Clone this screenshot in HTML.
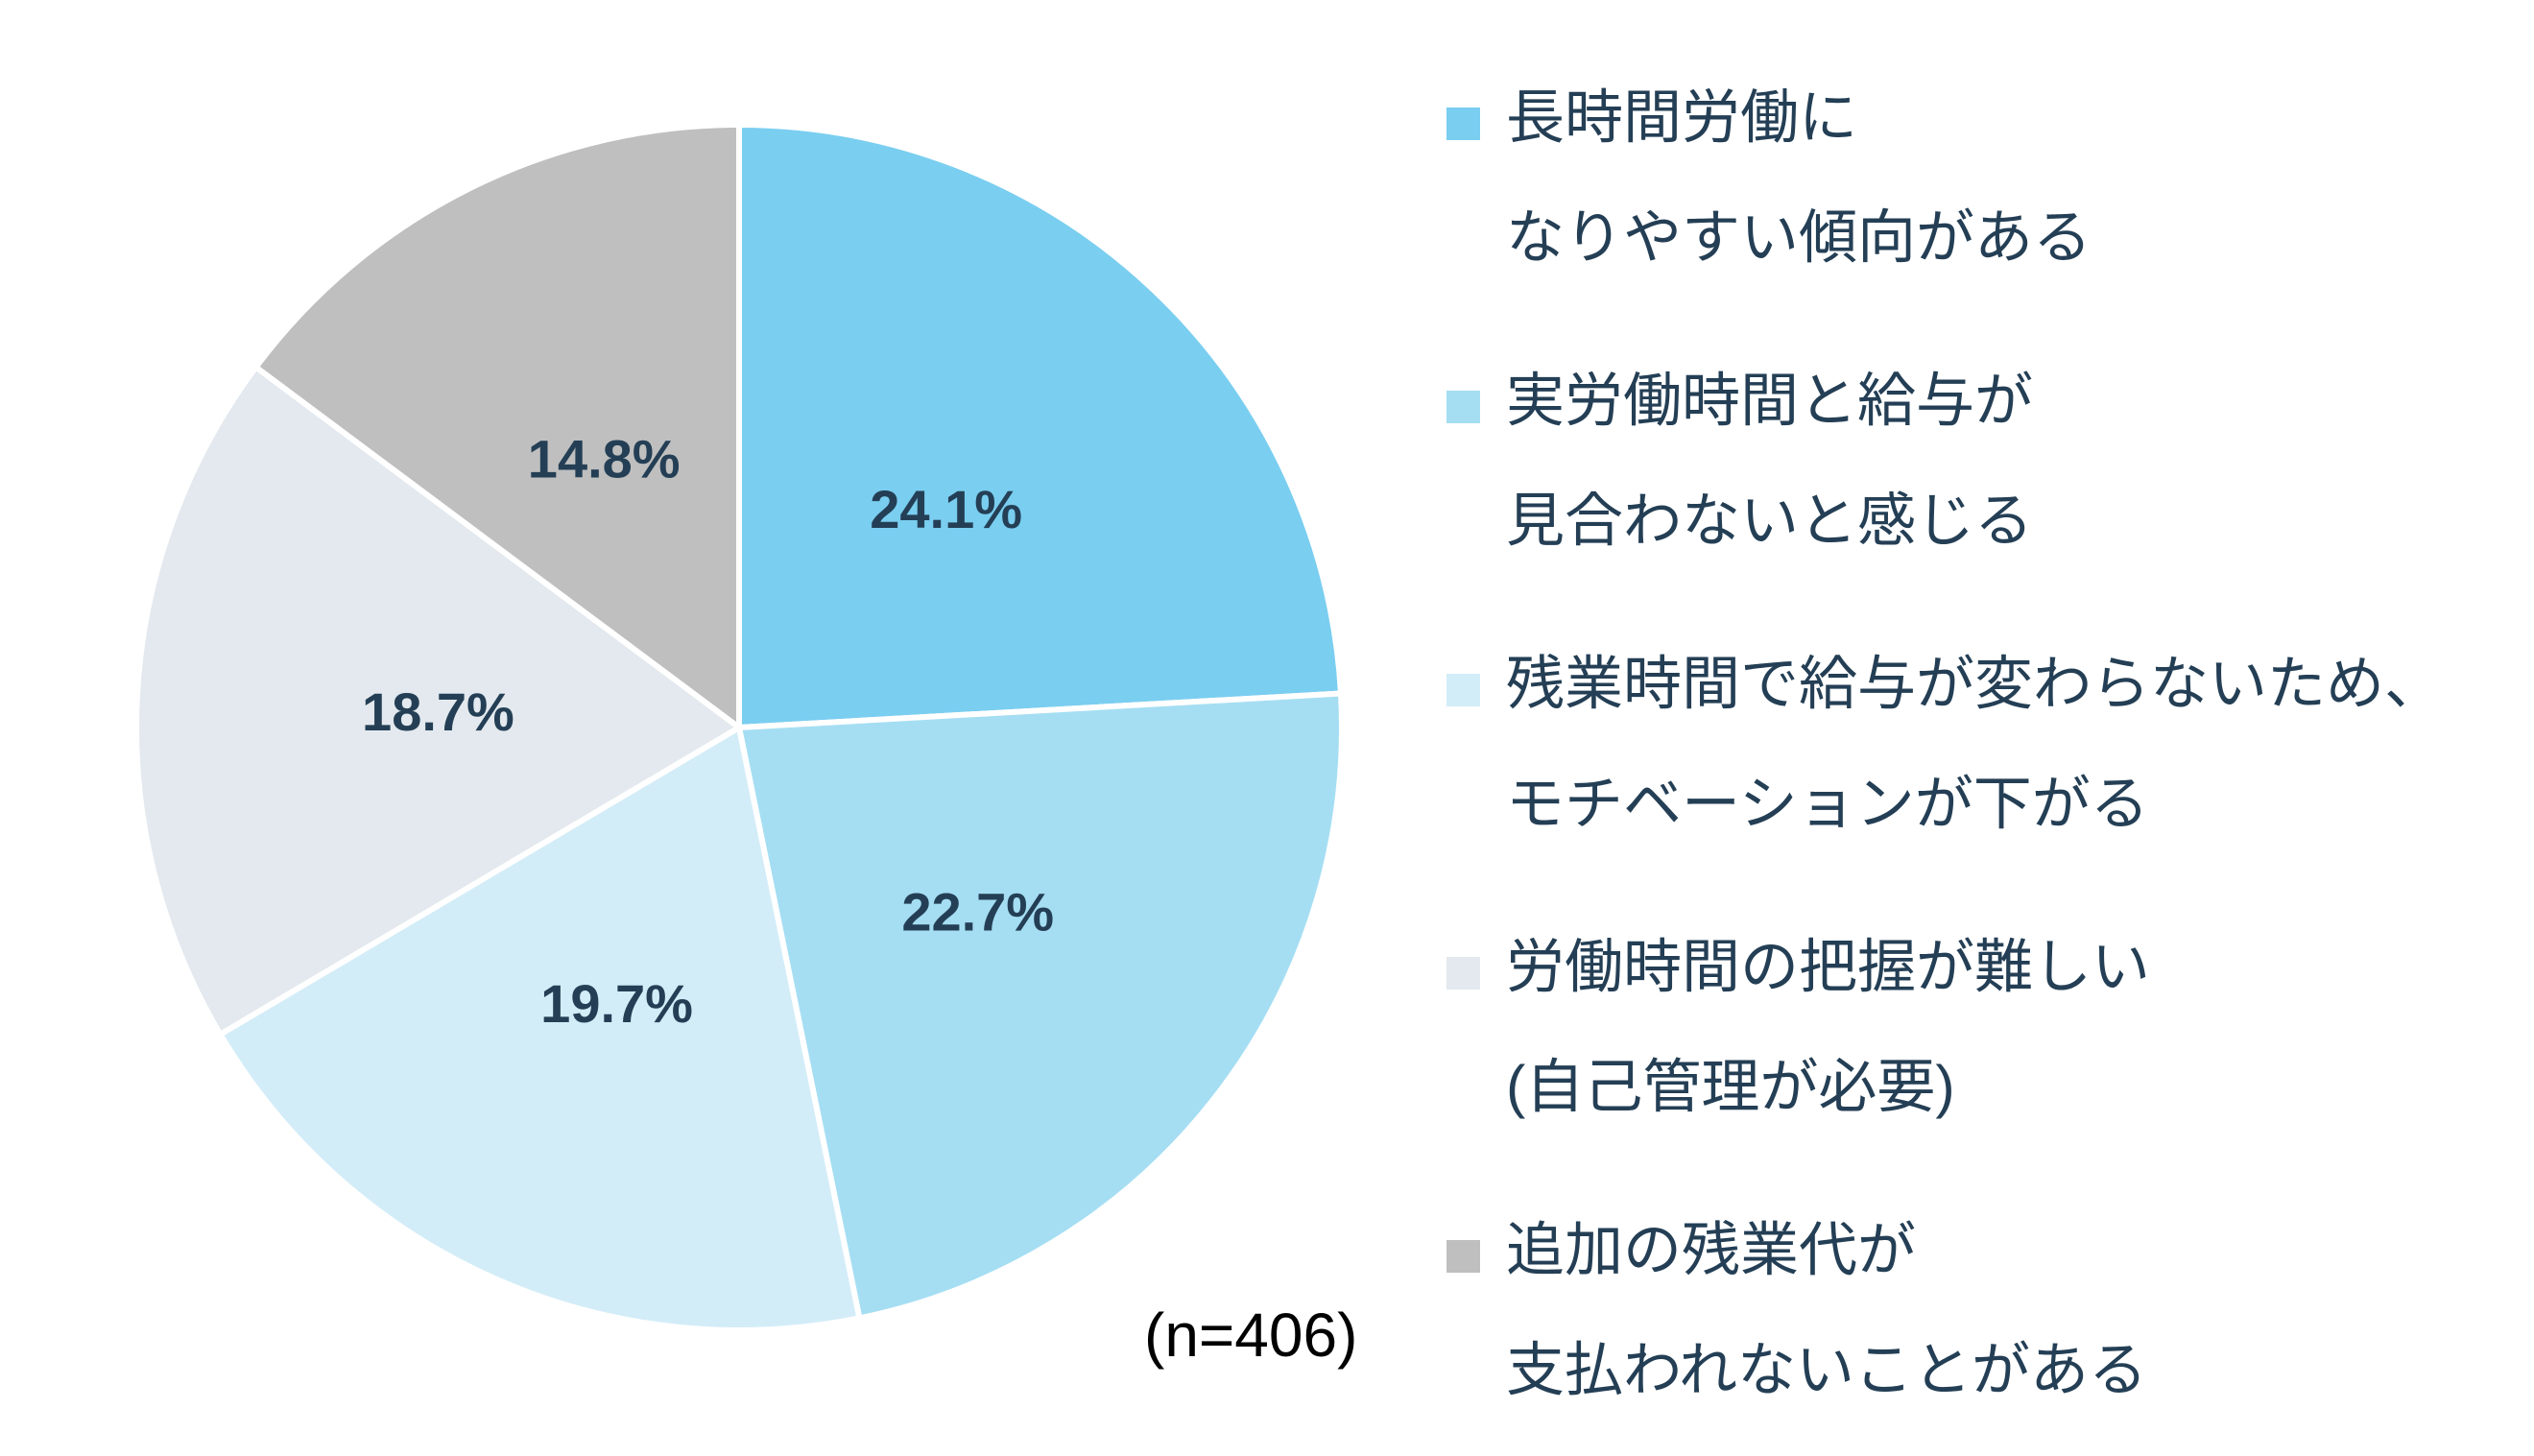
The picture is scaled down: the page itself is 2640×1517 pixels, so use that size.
<!DOCTYPE html>
<html><head><meta charset="utf-8"><style>
html,body{margin:0;padding:0;background:#fff;}
svg{display:block;}
</style></head><body>
<svg id="chart" width="2640" height="1517" viewBox="0 0 2640 1517" xmlns="http://www.w3.org/2000/svg">
<g id="slices"></g>
<g id="labels"></g>
<g id="legend"></g>
<text x="1192" y="1413" font-family="Liberation Sans, sans-serif" font-size="64" fill="#000">(n=406)</text>
</svg>
<script>
const categories = [
  ["長時間労働に","なりやすい傾向がある"],
  ["実労働時間と給与が","見合わないと感じる"],
  ["残業時間で給与が変わらないため、","モチベーションが下がる"],
  ["労働時間の把握が難しい","(自己管理が必要)"],
  ["追加の残業代が","支払われないことがある"]
];
const values = [24.1, 22.7, 19.7, 18.7, 14.8];
const valueLabels = ["24.1%","22.7%","19.7%","18.7%","14.8%"];
const colors = ["#7acef0","#a5def3","#d3edf8","#e3e9ee","#bfbfbf"];

const NS = "http://www.w3.org/2000/svg";
const cx = 770, cy = 758, r = 628;
const total = values.reduce((a,b)=>a+b,0);
function pt(frac, rad){ const a = frac*2*Math.PI; return [cx + rad*Math.sin(a), cy - rad*Math.cos(a)]; }
const gS = document.getElementById('slices'), gL = document.getElementById('labels'), gG = document.getElementById('legend');
let acc = 0;
values.forEach((v,i)=>{
  const f0 = acc/total, f1 = (acc+v)/total; acc += v;
  const [x0,y0] = pt(f0,r), [x1,y1] = pt(f1,r);
  const large = (f1-f0) > 0.5 ? 1 : 0;
  const p = document.createElementNS(NS,'path');
  p.setAttribute('d',`M${cx},${cy} L${x0},${y0} A${r},${r} 0 ${large} 1 ${x1},${y1} Z`);
  p.setAttribute('fill',colors[i]);
  p.setAttribute('stroke','#fff');
  p.setAttribute('stroke-width','6');
  p.setAttribute('stroke-linejoin','round');
  
  
  gS.appendChild(p);
  const [lx,ly] = pt((f0+f1)/2, r*0.5);
  const t = document.createElementNS(NS,'text');
  t.setAttribute('x',lx); t.setAttribute('y',ly+20);
  t.setAttribute('text-anchor','middle');
  t.setAttribute('font-family','Liberation Sans, sans-serif');
  t.setAttribute('font-weight','bold');
  t.setAttribute('font-size','56');
  t.setAttribute('fill','#243f55');
  t.textContent = valueLabels[i];
  
  
  gL.appendChild(t);
});
categories.forEach((lines,i)=>{
  const y = 143 + i*295;
  const sq = document.createElementNS(NS,'rect');
  sq.setAttribute('x',1507); sq.setAttribute('y',y-31);
  sq.setAttribute('width',35); sq.setAttribute('height',34);
  sq.setAttribute('fill',colors[i]);
  
  
  gG.appendChild(sq);
  lines.forEach((ln,j)=>{
    const t = document.createElementNS(NS,'text');
    t.setAttribute('x',1569); t.setAttribute('y',y + j*125);
    t.setAttribute('font-family','Liberation Sans, Noto Sans CJK JP, sans-serif');
    t.setAttribute('font-size','61');
    t.setAttribute('fill','#243f55');
    t.textContent = ln;
    
    
    gG.appendChild(t);
  });
});
</script>
</body></html>
